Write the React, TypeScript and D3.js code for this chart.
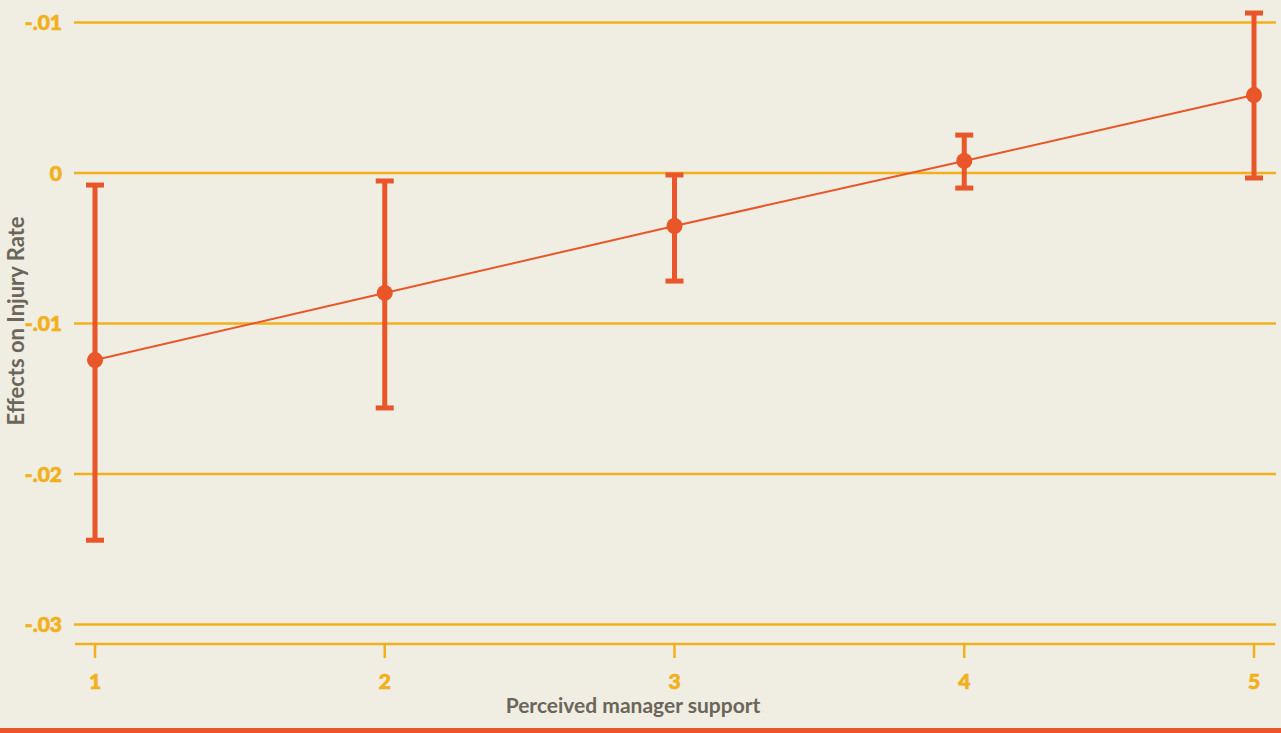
import React from "react";
import * as d3 from "d3";

const categories = [1, 2, 3, 4, 5];
const estimates = [-0.01243, -0.00797, -0.00352, 0.0008, 0.00518];
const upper = [-0.0008, -0.00053, -0.00013, 0.00252, 0.01063];
const lower = [-0.0244, -0.01561, -0.00718, -0.001, -0.00033];
const yTicks = [0.01, 0, -0.01, -0.02, -0.03];
const yTickLabels = ["-.01", "0", "-.01", "-.02", "-.03"];

const W = 1281;
const H = 733;
const BG = "#F0EDE2";
const GOLD = "#F2B11C";
const ORANGE = "#E8562A";
const GRAY = "#6B665B";

export default function App() {
  const x = d3.scaleLinear().domain([1, 5]).range([95, 1254]);
  const y = d3.scaleLinear().domain([0, -0.01]).range([173, 323.5]);
  const line = d3
    .line<number>()
    .x((_, i) => x(categories[i]))
    .y((d) => y(d));
  const capW = 9;
  return (
    <svg
      width={W}
      height={H}
      style={{ position: "absolute", left: 0, top: 0, display: "block" }}
      fontFamily="Lato, sans-serif"
    >
      <rect x={0} y={0} width={W} height={H} fill={BG} />
      {yTicks.map((t, i) => (
        <g key={i}>
          <line x1={74} x2={1276} y1={y(t)} y2={y(t)} stroke={GOLD} strokeWidth={2.5} />
          <text
            x={62}
            y={y(t)}
            dy="0.36em"
            textAnchor="end"
            fill={GOLD}
            stroke={GOLD}
            strokeWidth={0.7}
            fontWeight={900}
            fontSize={21}
          >
            {yTickLabels[i]}
          </text>
        </g>
      ))}
      <line x1={75} x2={1275} y1={644} y2={644} stroke={GOLD} strokeWidth={2.5} />
      {categories.map((c) => (
        <g key={c}>
          <line x1={x(c)} x2={x(c)} y1={644} y2={658} stroke={GOLD} strokeWidth={2.5} />
          <text
            x={x(c)}
            y={689}
            textAnchor="middle"
            fill={GOLD}
            stroke={GOLD}
            strokeWidth={0.7}
            fontWeight={900}
            fontSize={21}
          >
            {c}
          </text>
        </g>
      ))}
      <text x={633} y={713} textAnchor="middle" fill={GRAY} fontWeight={700} fontSize={21}>
        Perceived manager support
      </text>
      <text
        transform="translate(24,321) rotate(-90)"
        textAnchor="middle"
        fill={GRAY}
        fontWeight={700}
        fontSize={22}
      >
        Effects on Injury Rate
      </text>
      <path d={line(estimates) || ""} fill="none" stroke={ORANGE} strokeWidth={2} />
      {categories.map((c, i) => (
        <g key={"e" + c}>
          <line x1={x(c)} x2={x(c)} y1={y(upper[i])} y2={y(lower[i])} stroke={ORANGE} strokeWidth={5} />
          <line x1={x(c) - capW} x2={x(c) + capW} y1={y(upper[i])} y2={y(upper[i])} stroke={ORANGE} strokeWidth={5} />
          <line x1={x(c) - capW} x2={x(c) + capW} y1={y(lower[i])} y2={y(lower[i])} stroke={ORANGE} strokeWidth={5} />
          <circle cx={x(c)} cy={y(estimates[i])} r={8} fill={ORANGE} />
        </g>
      ))}
      <rect x={0} y={728} width={W} height={5} fill={ORANGE} />
    </svg>
  );
}
